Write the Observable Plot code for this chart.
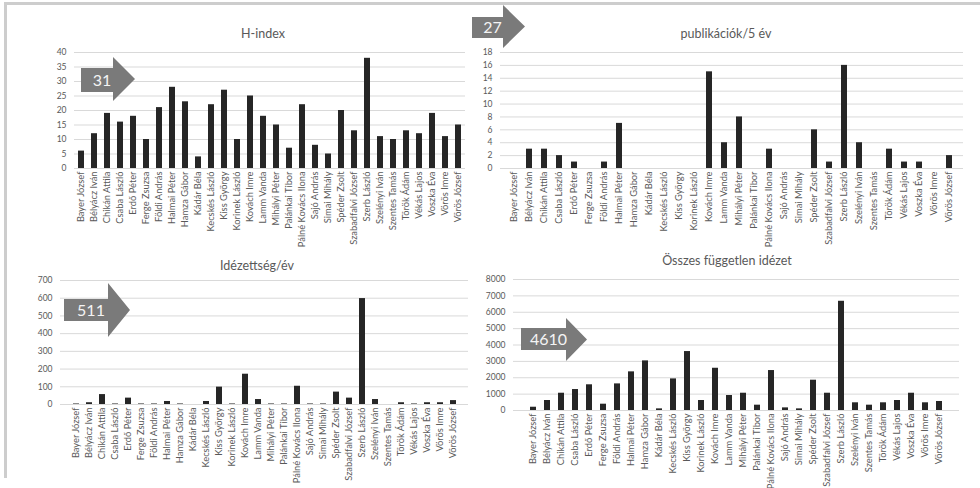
<!DOCTYPE html>
<html>
<head>
<meta charset="utf-8">
<script src="https://cdn.jsdelivr.net/npm/d3@7"></script>
<script src="https://cdn.jsdelivr.net/npm/@observablehq/plot@0.6"></script>
<style>
  body { margin: 0; background: white; }
  #root { position: relative; width: 980px; height: 488px; background: white; font-family: Lato, "Open Sans", sans-serif; overflow: hidden; }
  .ptitle { position: absolute; transform: translate(-50%, -50%); color: #595959; font-size: 12.5px; font-weight: 400; white-space: nowrap; }
  .panel { position: absolute; }
</style>
</head>
<body>
<div id="root"></div>
<script>
const names = ["Bayer József","Bélyácz Iván","Chikán Attila","Csaba László","Erdő Péter","Ferge Zsuzsa","Földi András","Halmai Péter","Hamza Gábor","Kádár Béla","Kecskés László","Kiss György","Korinek László","Kovách Imre","Lamm Vanda","Mihályi Péter","Palánkai Tibor","Pálné Kovács Ilona","Sajó András","Simai Mihály","Spéder Zsolt","Szabadfalvi József","Szerb László","Szelényi Iván","Szentes Tamás","Török Ádám","Vékás Lajos","Voszka Éva","Vörös Imre","Vörös József"];
const hIndex = [6,12,19,16,18,10,21,28,23,4,22,27,10,25,18,15,7,22,8,5,20,13,38,11,10,13,12,19,11,15];
const pub5 = [0,3,3,2,1,0,1,7,0,0,0,0,0,15,4,8,0,3,0,0,6,1,16,4,0,3,1,1,0,2];
const citPerYear = [3,10,56,3,36,3,3,17,3,0,17,98,3,171,28,3,3,103,3,3,70,36,598,28,0,10,3,10,10,22];
const totalCit = [200,610,1055,1280,1570,385,1625,2360,3030,100,1930,3600,610,2580,915,1055,325,2440,160,100,1850,1055,6670,470,325,470,610,1055,470,550];
const titles = ["H-index","publikációk/5 év","Idézettség/év","Összes független idézet"];
const yMaxes = [40,18,700,8000];
const ySteps = [5,2,100,1000];
const arrowValues = ["31","27","511","4610"];

const root = document.getElementById("root");

// frame lines
const frame = document.createElement("div");
frame.style.cssText = "position:absolute;left:4px;top:2px;width:990px;height:476px;border-top:3px solid #cdcdcd;border-left:3px solid #cdcdcd;box-sizing:border-box;";
root.appendChild(frame);

// layout: svg box and plot-area edges
const layout = [
  {L:0,   T:40,  W:485, H:210, x0:74,  x1:465, yTop:52,  y0:168, pad:0.55, tx:263, ty:33},
  {L:470, T:40,  W:510, H:210, x0:500, x1:963, yTop:52,  y0:168, pad:0.6,  tx:726, ty:33},
  {L:0,   T:270, W:485, H:218, x0:60,  x1:468, yTop:280, y0:404, pad:0.56, tx:257, ty:265},
  {L:470, T:270, W:510, H:218, x0:513, x1:959, yTop:279, y0:410, pad:0.6,  tx:727, ty:260}
];
const series = [hIndex, pub5, citPerYear, totalCit];

series.forEach((vals, i) => {
  const g = layout[i];
  const data = names.map((n, j) => ({name: n, value: vals[j]}));
  const ticks = d3.range(0, yMaxes[i] + ySteps[i] / 2, ySteps[i]);
  const chart = Plot.plot({
    width: g.W,
    height: g.H,
    marginLeft: g.x0 - g.L,
    marginRight: g.L + g.W - g.x1,
    marginTop: g.yTop - g.T,
    marginBottom: g.T + g.H - g.y0,
    style: {background: "transparent", overflow: "visible", fontFamily: "Lato, 'Open Sans', sans-serif", color: "#595959", fontSize: "9px"},
    x: {type: "band", domain: names, paddingInner: g.pad, paddingOuter: g.pad / 2},
    y: {domain: [0, yMaxes[i]]},
    marks: [
      Plot.gridY(ticks, {stroke: "#d9d9d9", strokeOpacity: 1, strokeWidth: 1}),
      Plot.barY(data, {x: "name", y: "value", fill: "#262626"}),
      Plot.axisY(ticks, {tickSize: 0, tickPadding: 8, label: null, fontSize: 8.5, fill: "#595959", tickFormat: d => String(d)}),
      Plot.axisX({tickRotate: -90, tickSize: 0, tickPadding: 3, label: null, fontSize: 9.3, fill: "#595959"})
    ]
  });
  chart.classList.add("panel");
  chart.style.left = g.L + "px";
  chart.style.top = g.T + "px";
  root.appendChild(chart);

  const t = document.createElement("div");
  t.className = "ptitle";
  t.textContent = titles[i];
  t.style.left = g.tx + "px";
  t.style.top = g.ty + "px";
  root.appendChild(t);
});

// arrow annotations
const arrows = [
  {x0:81,  xb:113, xt:135, r0:68,  r1:92,  h0:57,  h1:101},
  {x0:472, xb:503, xt:525, r0:17,  r1:38,  h0:5,   h1:48},
  {x0:64,  xb:108, xt:130, r0:299, r1:321, h0:283, h1:337},
  {x0:521, xb:566, xt:587, r0:328, r1:350, h0:318, h1:361}
];
const svg = d3.select(root).append("svg")
  .attr("width", 980).attr("height", 488)
  .style("position", "absolute").style("left", 0).style("top", 0);
arrows.forEach((a, i) => {
  const tipY = (a.h0 + a.h1) / 2;
  svg.append("polygon")
    .attr("points", [[a.x0,a.r0],[a.xb,a.r0],[a.xb,a.h0],[a.xt,tipY],[a.xb,a.h1],[a.xb,a.r1],[a.x0,a.r1]].map(p => p.join(",")).join(" "))
    .attr("fill", "#7a7a7a");
  svg.append("text")
    .attr("x", (a.x0 + a.xb) / 2 + 5)
    .attr("y", (a.r0 + a.r1) / 2)
    .attr("dy", "0.36em")
    .attr("text-anchor", "middle")
    .attr("fill", "#f4f4f4")
    .style("font-family", "Lato, 'Open Sans', sans-serif")
    .style("font-size", "16px")
    .text(arrowValues[i]);
});
</script>
</body>
</html>
